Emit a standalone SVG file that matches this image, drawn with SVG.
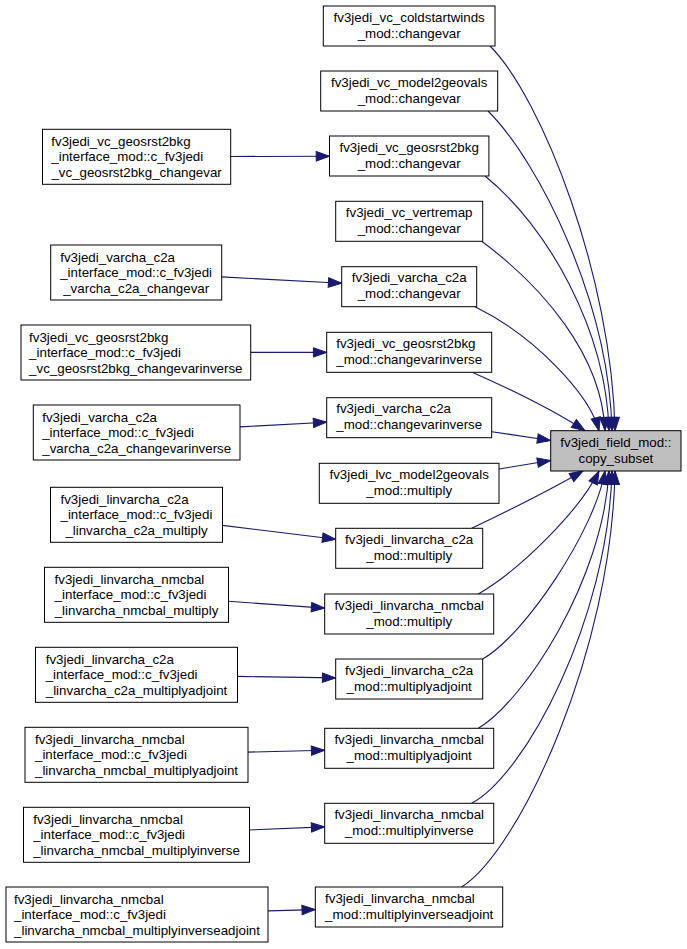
<svg xmlns="http://www.w3.org/2000/svg" width="687" height="949" viewBox="0 0 687 949">
<defs>
<style>
.n rect{fill:#ffffff;stroke:#000000;stroke-width:1}
.t rect{fill:#bfbfbf;stroke:#000000;stroke-width:1}
text{font-family:"Liberation Sans",Arial,Helvetica,sans-serif;font-size:13.33px;fill:#000000}
.m{text-anchor:middle}
.e path{fill:none;stroke:#191970;stroke-width:1.1;marker-end:url(#ah)}
</style>
<marker id="ah" markerUnits="userSpaceOnUse" markerWidth="16" markerHeight="12" refX="13.3" refY="4.7" orient="auto" overflow="visible">
<path d="M0,0 L13.3,4.7 L0,9.4 Z" fill="#191970" stroke="#191970" stroke-width="1"/>
</marker>
</defs>
<rect width="687" height="949" fill="#ffffff"/>
<g id="edges" class="e">
<path d="M490,46 C542,98 612,277 615,430.7"/>
<path d="M488,111 C540,163 609,303 612,430.7"/>
<path d="M485,176 C547,226 606,329 609,430.7"/>
<path d="M481.7,241.3 C542,286 602,355 605,430.7"/>
<path d="M475,306.7 C535,336 590,395 599,430.7"/>
<path d="M473.3,372.7 C510,389 550,408 585,430.7"/>
<path d="M491.7,431.7 L550.7,440.5"/>
<path d="M499,469 L550.7,460.5"/>
<path d="M471.7,528.3 C510,510 550,490 583,471"/>
<path d="M478.3,594 C520,570 580,510 599,471"/>
<path d="M482.7,659 C525,635 595,530 605,471"/>
<path d="M478.3,728.3 C525,700 603,580 609,471"/>
<path d="M471.7,803.3 C525,775 608,620 612,471"/>
<path d="M461.7,887 C520,850 612,650 615,471"/>
<path d="M230.7,156.5 L329.5,156.2"/>
<path d="M221.7,276.9 L341.7,283.2"/>
<path d="M250.7,352.4 L326.7,352.4"/>
<path d="M240,426.9 L326.7,422.2"/>
<path d="M222.5,525.4 L335.7,539.3"/>
<path d="M228.5,601.3 L324.7,608.1"/>
<path d="M237.5,676.4 L335.7,677.9"/>
<path d="M248,752.1 L324.7,750.3"/>
<path d="M249.5,830 L324.7,826.9"/>
<path d="M268,910.9 L315.3,909.6"/>
</g>
<g id="target" class="t">
<rect x="550.7" y="430.7" width="130.3" height="40.3"/>
<text class="m" x="615.9" y="446.7">fv3jedi_field_mod::</text>
<text class="m" x="615.9" y="462.7">copy_subset</text>
</g>
<g id="m1" class="n"><rect x="323.3" y="6" width="171.7" height="40"/>
<text x="333.6" y="21.7">fv3jedi_vc_coldstartwinds</text><text class="m" x="409.2" y="37.7">_mod::changevar</text></g>
<g id="m2" class="n"><rect x="320.7" y="71" width="177" height="40"/>
<text x="331" y="86.7">fv3jedi_vc_model2geovals</text><text class="m" x="409.2" y="102.7">_mod::changevar</text></g>
<g id="m3" class="n"><rect x="329.5" y="136" width="159.4" height="40"/>
<text x="339.5" y="151.7">fv3jedi_vc_geosrst2bkg</text><text class="m" x="409.2" y="167.7">_mod::changevar</text></g>
<g id="m4" class="n"><rect x="335.7" y="201.3" width="147" height="40"/>
<text x="345.8" y="217">fv3jedi_vc_vertremap</text><text class="m" x="409.2" y="233">_mod::changevar</text></g>
<g id="m5" class="n"><rect x="341.7" y="266.7" width="135" height="40"/>
<text x="351.8" y="282.4">fv3jedi_varcha_c2a</text><text class="m" x="409.2" y="298.4">_mod::changevar</text></g>
<g id="m6" class="n"><rect x="326.7" y="332.3" width="165" height="40"/>
<text x="336.2" y="348">fv3jedi_vc_geosrst2bkg</text><text class="m" x="409.2" y="364">_mod::changevarinverse</text></g>
<g id="m7" class="n"><rect x="326.7" y="397.7" width="165" height="40"/>
<text x="336.2" y="413.4">fv3jedi_varcha_c2a</text><text class="m" x="409.2" y="429.4">_mod::changevarinverse</text></g>
<g id="m8" class="n"><rect x="319.3" y="463.3" width="179.7" height="40"/>
<text x="329.5" y="479">fv3jedi_lvc_model2geovals</text><text class="m" x="409.2" y="495">_mod::multiply</text></g>
<g id="m9" class="n"><rect x="335.7" y="528.3" width="147" height="40"/>
<text x="345.1" y="544">fv3jedi_linvarcha_c2a</text><text class="m" x="409.2" y="560">_mod::multiply</text></g>
<g id="m10" class="n"><rect x="324.7" y="594" width="169" height="40"/>
<text x="334.4" y="609.7">fv3jedi_linvarcha_nmcbal</text><text class="m" x="409.2" y="625.7">_mod::multiply</text></g>
<g id="m11" class="n"><rect x="335.7" y="659" width="147" height="40"/>
<text x="345.1" y="674.7">fv3jedi_linvarcha_c2a</text><text class="m" x="409.2" y="690.7">_mod::multiplyadjoint</text></g>
<g id="m12" class="n"><rect x="324.7" y="728.3" width="169" height="40"/>
<text x="334.4" y="744">fv3jedi_linvarcha_nmcbal</text><text class="m" x="409.2" y="760">_mod::multiplyadjoint</text></g>
<g id="m13" class="n"><rect x="324.7" y="803.3" width="169" height="40"/>
<text x="334.4" y="819">fv3jedi_linvarcha_nmcbal</text><text class="m" x="409.2" y="835">_mod::multiplyinverse</text></g>
<g id="m14" class="n"><rect x="315.3" y="887" width="187.4" height="40"/>
<text x="325.1" y="902.7">fv3jedi_linvarcha_nmcbal</text><text class="m" x="409.2" y="918.7">_mod::multiplyinverseadjoint</text></g>
<g id="l1" class="n"><rect x="42.5" y="129.3" width="188.2" height="55"/>
<text x="51.3" y="145.8">fv3jedi_vc_geosrst2bkg</text><text x="51.3" y="161.3">_interface_mod::c_fv3jedi</text><text class="m" x="136.6" y="176.8">_vc_geosrst2bkg_changevar</text></g>
<g id="l2" class="n"><rect x="50.7" y="245" width="171" height="55"/>
<text x="60.2" y="261.5">fv3jedi_varcha_c2a</text><text x="60.2" y="277">_interface_mod::c_fv3jedi</text><text class="m" x="136.2" y="292.5">_varcha_c2a_changevar</text></g>
<g id="l3" class="n"><rect x="21" y="325" width="229.7" height="55"/>
<text x="29.1" y="341.5">fv3jedi_vc_geosrst2bkg</text><text x="29.1" y="357">_interface_mod::c_fv3jedi</text><text class="m" x="135.8" y="372.5">_vc_geosrst2bkg_changevarinverse</text></g>
<g id="l4" class="n"><rect x="33.3" y="405" width="206.7" height="55"/>
<text x="42.2" y="421.5">fv3jedi_varcha_c2a</text><text x="42.2" y="437">_interface_mod::c_fv3jedi</text><text class="m" x="136.7" y="452.5">_varcha_c2a_changevarinverse</text></g>
<g id="l5" class="n"><rect x="50.5" y="487.3" width="172" height="55"/>
<text x="60.5" y="503.8">fv3jedi_linvarcha_c2a</text><text x="60.5" y="519.3">_interface_mod::c_fv3jedi</text><text class="m" x="136.5" y="534.8">_linvarcha_c2a_multiply</text></g>
<g id="l6" class="n"><rect x="44.5" y="567.3" width="184" height="55"/>
<text x="54.6" y="583.8">fv3jedi_linvarcha_nmcbal</text><text x="54.6" y="599.3">_interface_mod::c_fv3jedi</text><text class="m" x="136.5" y="614.8">_linvarcha_nmcbal_multiply</text></g>
<g id="l7" class="n"><rect x="35.5" y="647.3" width="202" height="55"/>
<text x="45.7" y="663.8">fv3jedi_linvarcha_c2a</text><text x="45.7" y="679.3">_interface_mod::c_fv3jedi</text><text class="m" x="136.5" y="694.8">_linvarcha_c2a_multiplyadjoint</text></g>
<g id="l8" class="n"><rect x="25" y="727.3" width="223" height="55"/>
<text x="35" y="743.8">fv3jedi_linvarcha_nmcbal</text><text x="35" y="759.3">_interface_mod::c_fv3jedi</text><text class="m" x="136.5" y="774.8">_linvarcha_nmcbal_multiplyadjoint</text></g>
<g id="l9" class="n"><rect x="23.5" y="807.3" width="226" height="55"/>
<text x="33.2" y="823.8">fv3jedi_linvarcha_nmcbal</text><text x="33.2" y="839.3">_interface_mod::c_fv3jedi</text><text class="m" x="136.5" y="854.8">_linvarcha_nmcbal_multiplyinverse</text></g>
<g id="l10" class="n"><rect x="6" y="887" width="262" height="55"/>
<text x="14" y="903.5">fv3jedi_linvarcha_nmcbal</text><text x="14" y="919">_interface_mod::c_fv3jedi</text><text class="m" x="137" y="934.5">_linvarcha_nmcbal_multiplyinverseadjoint</text></g>
</svg>
